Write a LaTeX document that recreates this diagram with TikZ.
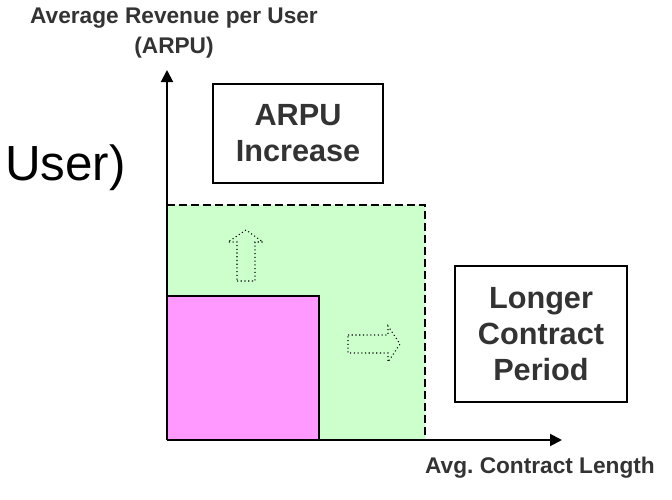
\documentclass[tikz,border=0pt]{standalone}
\usepackage{fontspec}
\setmainfont{Liberation Sans}
\usetikzlibrary{arrows.meta}
\definecolor{lightgreen}{RGB}{204,255,204}
\definecolor{pinkfill}{RGB}{255,153,255}
\definecolor{darktext}{RGB}{51,51,51}
\tikzset{
  axisline/.style={line width=1.5pt,-{Triangle[length=9pt,width=9pt]}},
  labelbox/.style={draw,line width=1.1pt,align=center,inner sep=0pt,font=\fontsize{23}{27}\selectfont\bfseries,text=darktext},
  axislabel/.style={align=center,font=\fontsize{17}{22.5}\selectfont\bfseries,text=darktext},
  hollowarrow/.style={draw,dotted,line width=0.8pt}
}
\begin{document}
\frenchspacing
\begin{tikzpicture}[x=0.75pt,y=0.75pt,yscale=-1,xscale=1]
\useasboundingbox (0,0) rectangle (672,500);

% Axis end points
\coordinate (O) at (167,440);
\coordinate (ytip) at (167,70);
\coordinate (xtip) at (562,440);

%Shape: Rectangle (extended area)
\fill [lightgreen] (167,205) rectangle (425,440);
\draw [dashed,line width=1.1pt,dash pattern=on 6pt off 3pt] (167,205) -- (425,205) -- (425,440);

%Shape: Rectangle (current area)
\draw [fill=pinkfill,line width=1.1pt] (167,440) -- (167,296) -- (319,296) -- (319,440);

%Shape: Up Arrow
\draw [hollowarrow] (237,281) -- (255,281) -- (255,242) -- (263,242) -- (246,230) -- (228,242) -- (237,242) -- cycle;

%Shape: Right Arrow
\draw [hollowarrow] (348,335) -- (388,335) -- (388,326) -- (400,344) -- (388,362) -- (388,353) -- (348,353) -- cycle;

%Straight Lines (axes)
\draw [axisline] (O) -- (ytip);
\draw [axisline] (O) -- (xtip);

% Text Node
\draw (298,133.5) node [labelbox,minimum width=127.5pt,minimum height=74.25pt] (arpubox) {ARPU\\Increase};
% Text Node
\draw (541,334) node [labelbox,minimum width=129pt,minimum height=102pt] (contractbox) {Longer\\Contract\\Period};
% Text Node
\draw (174,33) node [axislabel] (ylabel) {Average Revenue per User\\(ARPU)};
% Text Node
\draw (540,468) node [axislabel] (xlabel) {Avg. Contract Length};
% Text Node
\draw (5,180) node [anchor=base west,inner sep=0pt,font=\fontsize{37}{44}\selectfont] (cutlabel) {User)};

\end{tikzpicture}
\end{document}
